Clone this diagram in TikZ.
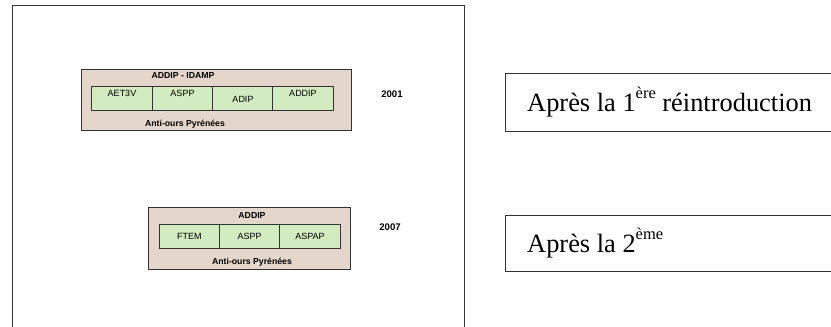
\documentclass[tikz,border=0pt]{standalone}
\usepackage{fontspec}
\setmainfont{Liberation Serif}
\newfontfamily\arialfont{Liberation Sans}
\definecolor{boxbrown}{HTML}{E4D6CB}
\definecolor{cellgreen}{HTML}{D3EBC1}
\definecolor{linegray}{HTML}{333333}
\newcommand{\supx}[1]{\raisebox{13pt}{\fontsize{16.5}{17}\selectfont #1}}
\begin{document}
\begin{tikzpicture}[x=1pt,y=-1pt,
  frame/.style={draw=linegray, line width=0.9pt},
  org/.style={draw=linegray, fill=boxbrown, line width=0.8pt},
  cell/.style={draw=linegray, fill=cellgreen, line width=0.8pt, inner sep=0pt,
    minimum height=24pt, minimum width=60.3pt},
  celltext/.style={font=\arialfont\fontsize{9}{10}\selectfont, inner sep=0pt},
  orgtitle/.style={font=\arialfont\bfseries\fontsize{8.7}{10}\selectfont, inner sep=0pt},
  yeartext/.style={font=\arialfont\bfseries\fontsize{9.6}{11}\selectfont, inner sep=0pt},
  bigtext/.style={font=\fontsize{26.4}{30}\selectfont, inner sep=0pt, anchor=base west}]
\useasboundingbox (0,0) rectangle (831,327);
\clip (0,0) rectangle (831,327);
% outer frame
\draw[frame] (12,5.5) rectangle (464,345);
% group 2001
\draw[org] (81.7,69.3) rectangle (351,130.7);
\node[cell] (c11) at (122,98.7) {};
\node[cell] (c12) at (182.3,98.7) {};
\node[cell] (c13) at (242.6,98.7) {};
\node[cell] (c14) at (302.9,98.7) {};
\node[celltext] (t11) at (122,93.5) {AET3V};
\node[celltext] (t12) at (182.5,93.5) {ASPP};
\node[celltext] (t13) at (243,99) {ADIP};
\node[celltext] (t14) at (303,93.5) {ADDIP};
\node[orgtitle] (g1t) at (183,76) {ADDIP - IDAMP};
\node[orgtitle] (g1b) at (185,124) {Anti-ours Pyrénées};
\node[yeartext] (y1) at (392,94.3) {2001};
% group 2007
\draw[org] (148.3,207.3) rectangle (350.7,269);
\node[cell] (c21) at (189.4,236.7) {};
\node[cell] (c22) at (249.7,236.7) {};
\node[cell] (c23) at (310,236.7) {};
\node[celltext] (t21) at (189.4,236.3) {FTEM};
\node[celltext] (t22) at (249.7,236.3) {ASPP};
\node[celltext] (t23) at (310,236.3) {ASPAP};
\node[orgtitle] (g2t) at (252,215.7) {ADDIP};
\node[orgtitle] (g2b) at (252,262.7) {Anti-ours Pyrénées};
\node[yeartext] (y2) at (390,226.7) {2007};
% right boxes
\draw[frame] (850,73) -- (505,73) -- (505,131) -- (850,131);
\node[bigtext] (r1) at (527,111.7) {Après la 1\supx{ère} réintroduction};
\draw[frame] (850,215) -- (505,215) -- (505,271) -- (850,271);
\node[bigtext] (r2) at (527,252) {Après la 2\supx{ème}};
\end{tikzpicture}
\end{document}
